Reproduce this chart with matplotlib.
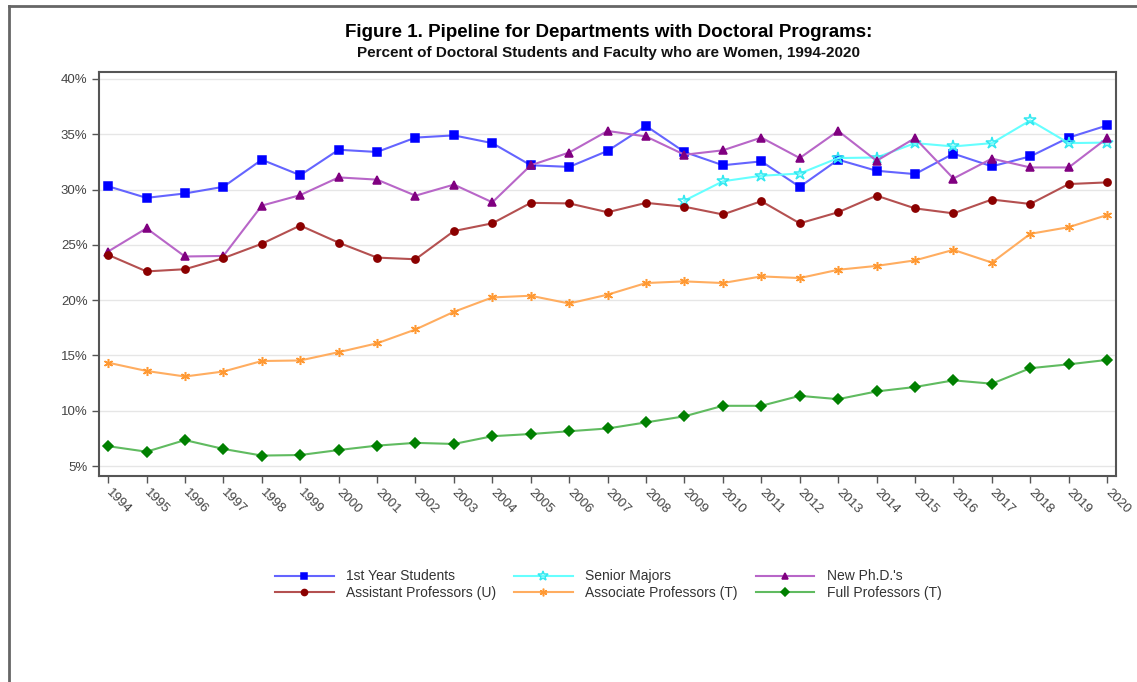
import numpy as np
import matplotlib.pyplot as plt
from matplotlib.lines import Line2D
from matplotlib.ticker import FuncFormatter

plt.rcParams['font.family'] = ['Liberation Sans', 'DejaVu Sans']

years = list(range(1994, 2021))
first_year = [30.3, 29.25, 29.65, 30.25, 32.7, 31.3, 33.6, 33.4, 34.7, 34.9,
              34.2, 32.2, 32.05, 33.5, 35.75, 33.4, 32.2, 32.55, 30.25, 32.7,
              31.7, 31.4, 33.25, 32.1, 33.0, 34.7, 35.8]
senior_years = list(range(2009, 2021))
senior = [29.0, 30.75, 31.25, 31.45, 32.85, 32.9, 34.2, 33.9, 34.2, 36.25,
          34.2, 34.25]
new_phd = [24.4, 26.5, 23.95, 24.0, 28.55, 29.5, 31.1, 30.9, 29.45, 30.45,
           28.85, 32.2, 33.35, 35.3, 34.8, 33.15, 33.55, 34.7, 32.85, 35.3,
           32.6, 34.65, 31.0, 32.8, 32.0, 32.0, 34.65]
asst_prof = [24.1, 22.6, 22.8, 23.8, 25.1, 26.75, 25.2, 23.85, 23.7, 26.25,
             26.95, 28.8, 28.75, 27.95, 28.8, 28.45, 27.75, 28.95, 26.95, 27.95,
             29.45, 28.3, 27.85, 29.1, 28.7, 30.5, 30.65]
assoc_prof = [14.35, 13.6, 13.1, 13.55, 14.5, 14.55, 15.3, 16.1, 17.35, 18.95,
              20.25, 20.4, 19.7, 20.5, 21.55, 21.7, 21.55, 22.15, 22.0, 22.75,
              23.1, 23.6, 24.55, 23.4, 26.0, 26.6, 27.7]
full_prof = [6.8, 6.3, 7.35, 6.55, 5.95, 6.0, 6.45, 6.85, 7.1, 7.0,
             7.7, 7.9, 8.15, 8.4, 8.95, 9.5, 10.45, 10.45, 11.35, 11.05,
             11.75, 12.15, 12.75, 12.45, 13.85, 14.2, 14.6]

fig = plt.figure(figsize=(11.37, 6.82), dpi=100)
ax = fig.add_axes([0.0873, 0.302, 0.8942, 0.5929])

series = [
    ('1st Year Students', years, first_year, '#6464ff', 's', '#0000ff', '#0000ff', 5.5),
    ('Senior Majors', senior_years, senior, '#66ffff', '*', 'none', '#33e8f0', 9),
    ("New Ph.D.'s", years, new_phd, '#b866c8', '^', '#800080', '#800080', 5.5),
    ('Assistant Professors (U)', years, asst_prof, '#b45050', 'o', '#8b0000', '#8b0000', 5.2),
    ('Associate Professors (T)', years, assoc_prof, '#ffad60', (6, 2, 0), '#ff9933', '#ff9933', 6.5),
    ('Full Professors (T)', years, full_prof, '#60bb60', 'D', '#008000', '#008000', 5.2),
]

for label, xs, ys, lc, mk, mfc, mec, ms in series:
    ax.plot(xs, ys, color=lc, lw=1.5, marker=mk, markerfacecolor=mfc,
            markeredgecolor=mec, markersize=ms, markeredgewidth=1.1, label=label)

ax.set_xlim(1993.77, 2020.23)
ax.set_ylim(4.1, 40.66)
ax.set_yticks([5, 10, 15, 20, 25, 30, 35, 40])
ax.yaxis.set_major_formatter(FuncFormatter(lambda v, p: f'{v:.0f}%'))
ax.set_xticks(years)
ax.set_xticklabels([str(y) for y in years], rotation=-45, ha='left',
                   va='center', rotation_mode='anchor')
ax.grid(axis='y', color='#e6e6e6', lw=1)
ax.set_axisbelow(True)
ax.tick_params(colors='#555555', labelcolor='#444444', labelsize=9.5, length=5, width=1)
ax.tick_params(axis='x', pad=6)
for s in ax.spines.values():
    s.set_color('#555555')
    s.set_linewidth(1.5)

fig.text(0.535, 0.953, 'Figure 1. Pipeline for Departments with Doctoral Programs:',
         ha='center', va='center', fontsize=13.5, fontweight='bold', color='#000000')
fig.text(0.535, 0.922, 'Percent of Doctoral Students and Faculty who are Women, 1994-2020',
         ha='center', va='center', fontsize=11, fontweight='bold', color='#111111')

handles, labels = ax.get_legend_handles_labels()
order = [0, 3, 1, 4, 2, 5]
leg = fig.legend([handles[i] for i in order], [labels[i] for i in order],
                 loc='center', bbox_to_anchor=(0.535, 0.143), ncol=3, frameon=False,
                 fontsize=10, handlelength=4.2, handletextpad=0.9, columnspacing=1.3,
                 labelspacing=0.15, markerscale=0.85)
for t in leg.get_texts():
    t.set_color('#333333')

# outer frame (top and left edges of the original figure border)
fig.add_artist(Line2D([9 / 1137, 9 / 1137], [0, 1 - 6 / 682], color='#666666', lw=2,
                      transform=fig.transFigure))
fig.add_artist(Line2D([9 / 1137, 1], [1 - 6 / 682, 1 - 6 / 682], color='#666666', lw=2,
                      transform=fig.transFigure))

fig.savefig('out.png', dpi=100)
